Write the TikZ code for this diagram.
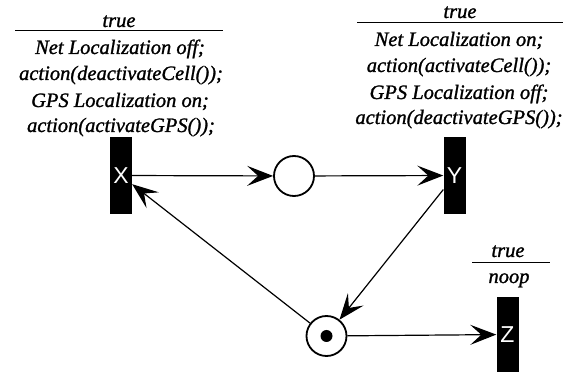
\documentclass[tikz,border=0pt]{standalone}
\usepackage{fontspec}
\newfontfamily\guardfont{Liberation Serif Italic}[FakeBold=1.2]
\newfontfamily\barfont{Liberation Sans}
\usetikzlibrary{arrows.meta}
\begin{document}
\begin{tikzpicture}[x=1pt,y=-1pt,
  guard/.style={font=\guardfont\fontsize{20.5}{24}\selectfont, anchor=base, inner sep=0pt},
  transition/.style={fill=black, minimum width=22pt, minimum height=77pt, inner sep=0pt,
    text=white, font=\barfont\fontsize{23}{23}\selectfont},
  place/.style={circle, draw, line width=1.8pt, minimum size=40pt, inner sep=0pt},
  token/.style={circle, fill=black, minimum size=12pt, inner sep=0pt},
  arc/.style={line width=1.2pt, -{Stealth[length=26pt,width=20pt,inset=11pt]}},
  rule/.style={line width=1pt}]
\useasboundingbox (0,0) rectangle (566,374);

% transitions and places
\node[transition] (X) at (121,175.5) {X};
\node[transition] (Y) at (454.5,175.5) {Y};
\node[transition, minimum height=75pt] (Z) at (507.5,334.5) {Z};
\node[place] (P1) at (294,176) {};
\node[place] (P2) at (326.5,336) {};
\node[token] (tok) at (P2) {};

% guard / action labels of X
\node[guard] (xg) at (119,27) {true};
\draw[rule] (15,31) -- (223,31);
\node[guard] (x1) at (120,54) {Net Localization off;};
\node[guard] (x2) at (121,80) {action(deactivateCell());};
\node[guard] (x3) at (120,107) {GPS Localization on;};
\node[guard] (x4) at (121,132) {action(activateGPS());};

% guard / action labels of Y
\node[guard] (yg) at (460,18) {true};
\draw[rule] (357,23) -- (563,23);
\node[guard] (y1) at (459,46) {Net Localization on;};
\node[guard] (y2) at (459,72) {action(activateCell());};
\node[guard] (y3) at (459,99) {GPS Localization off;};
\node[guard] (y4) at (459,124) {action(deactivateGPS());};

% guard / action labels of Z
\node[guard] (zg) at (508,257) {true};
\draw[rule] (472,263) -- (550,263);
\node[guard] (z1) at (509,283) {noop};

% arcs
\draw[arc] (X) -- (P1);
\draw[arc] (P1) -- (Y);
\draw[arc] (Y) -- (P2);
\draw[arc] (P2) -- (X);
\draw[arc] (P2) -- (Z);
\end{tikzpicture}
\end{document}
